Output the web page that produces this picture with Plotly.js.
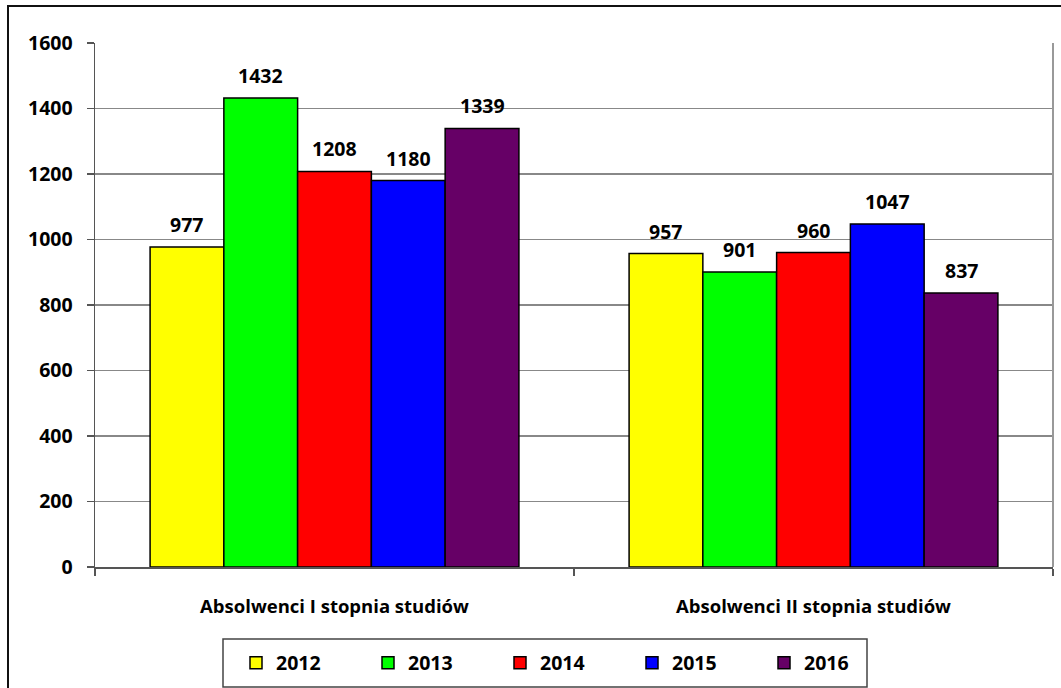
<!DOCTYPE html>
<html>
<head>
<meta charset="utf-8">
<script src="https://cdn.plot.ly/plotly-3.0.1.min.js"></script>
<style>
  html, body { margin: 0; padding: 0; background: #fff; overflow: hidden; }
  #chart { width: 1061px; height: 688px; }
</style>
</head>
<body>
<div id="chart"></div>
<script>
const categories = ["Absolwenci I stopnia studiów", "Absolwenci II stopnia studiów"];
const years = ["2012", "2013", "2014", "2015", "2016"];
const colors = ["#FFFF00", "#00FF00", "#FF0000", "#0000FF", "#660066"];
const v2012 = [977, 957];
const v2013 = [1432, 901];
const v2014 = [1208, 960];
const v2015 = [1180, 1047];
const v2016 = [1339, 837];
const series = [v2012, v2013, v2014, v2015, v2016];
const yTicks = [0, 200, 400, 600, 800, 1000, 1200, 1400, 1600];

const FONT = "Open Sans, DejaVu Sans, sans-serif";
const W = 1061, H = 688;
const M = {l: 95, r: 8, t: 43, b: 121, autoexpand: false};
const bargap = 0.23;
const plotW = W - M.l - M.r;
const barPx = plotW / categories.length * (1 - bargap) / years.length;

const traces = series.map((vals, i) => ({
  type: "bar",
  name: years[i],
  x: categories,
  y: vals,
  marker: {color: colors[i], line: {color: "#000", width: 1.5}},
  hoverinfo: "skip"
}));

const annotations = [];
series.forEach((vals, i) => {
  vals.forEach((v, j) => {
    annotations.push({
      x: categories[j], y: v, xref: "x", yref: "y",
      text: "<b>" + v + "</b>", showarrow: false,
      yanchor: "bottom", xanchor: "center",
      xshift: (i - (years.length - 1) / 2) * barPx,
      yshift: 7,
      font: {family: FONT, size: 19.5, color: "#000"}
    });
  });
});

const pxX = px => (px - M.l) / plotW;
const pxY = py => (H - M.b - py) / (H - M.t - M.b);

const layout = {
  width: W, height: H,
  margin: M,
  paper_bgcolor: "#fff", plot_bgcolor: "#fff",
  barmode: "group", bargap: bargap, bargroupgap: 0,
  showlegend: true,
  legend: {
    orientation: "h", x: pxX(236), xanchor: "left", y: pxY(663), yanchor: "middle",
    entrywidth: 87, entrywidthmode: "pixels",
    font: {family: FONT, size: 19.5, color: "#000", weight: "bold"},
    bgcolor: "rgba(0,0,0,0)", borderwidth: 0, traceorder: "normal"
  },
  xaxis: {
    type: "category",
    tickson: "boundaries", ticks: "outside", ticklen: 7, tickcolor: "#555", tickwidth: 1.5,
    showline: true, linecolor: "#555", linewidth: 1.5,
    showgrid: false, zeroline: false,
    ticklabelstandoff: 22,
    tickfont: {family: FONT, size: 18.5, color: "#000", weight: "bold"}
  },
  yaxis: {
    range: [0, 1600], tickvals: yTicks, ticktext: yTicks.map(String),
    ticks: "outside", ticklen: 7, tickcolor: "#555", tickwidth: 1.5,
    showline: true, linecolor: "#555", linewidth: 1.5,
    showgrid: true, gridcolor: "#888", gridwidth: 1.5, zeroline: false,
    ticklabelstandoff: 10,
    tickfont: {family: FONT, size: 19.5, color: "#000", weight: "bold"}
  },
  shapes: [
    {type: "line", xref: "paper", yref: "paper", x0: 1, x1: 1, y0: 0, y1: 1,
     line: {color: "#999", width: 2}},
    {type: "rect", xref: "paper", yref: "paper",
     x0: pxX(223), x1: pxX(867), y0: pxY(687), y1: pxY(639),
     line: {color: "#444", width: 1.5}, fillcolor: "rgba(0,0,0,0)"},
    {type: "rect", xref: "paper", yref: "paper",
     x0: pxX(8), x1: pxX(1080), y0: pxY(710), y1: pxY(6),
     line: {color: "#111", width: 2}, fillcolor: "rgba(0,0,0,0)"}
  ],
  annotations: annotations
};

Plotly.newPlot("chart", traces, layout, {displayModeBar: false, staticPlot: true});
</script>
</body>
</html>
